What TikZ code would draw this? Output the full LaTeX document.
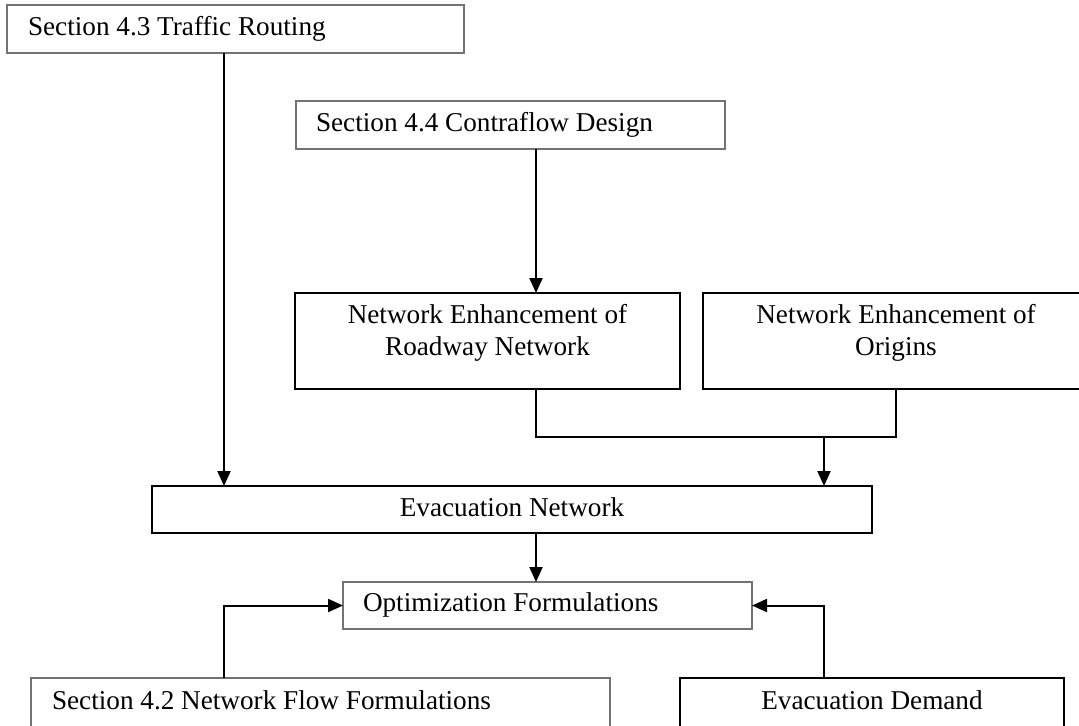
\documentclass[tikz,border=0pt]{standalone}
\usepackage{fontspec}
\setmainfont{Liberation Serif}
\usetikzlibrary{arrows.meta,fit,calc}
\definecolor{thinedge}{gray}{0.45}
\begin{document}
\begin{tikzpicture}[x=0.5pt,y=-0.5pt,
  plainbox/.style={draw=thinedge,line width=0.6pt,inner sep=0pt,outer sep=0pt},
  boldbox/.style={draw=black,line width=1pt,inner sep=0pt,outer sep=0pt},
  boxtext/.style={font=\fontsize{13.6}{16.2}\selectfont,inner sep=0pt,outer sep=0pt},
  link/.style={draw=black,line width=1pt},
  flow/.style={link,-{Triangle[length=7.5pt,width=6.5pt]}},
]
\useasboundingbox (0,0) rectangle (1079,725);
\clip (0,0) rectangle (1079,725);

% boxes
\node[plainbox,fit={(7,5)(464,53)}] (tr) {};
\node[plainbox,fit={(296,101)(725,149)}] (cf) {};
\node[boldbox,fit={(295,293)(680,389)}] (rn) {};
\node[boldbox,fit={(703,293)(1082,389)}] (og) {};
\node[boldbox,fit={(152,486)(872,533)}] (en) {};
\node[plainbox,fit={(343,582)(752,629)}] (of) {};
\node[plainbox,fit={(31,678)(610,745)}] (nf) {};
\node[boldbox,fit={(680,678)(1064,745)}] (ed) {};

% box labels
\node[boxtext,anchor=base west] (trT) at ($(tr.north west)+(21,30.7)$) {Section 4.3 Traffic Routing};
\node[boxtext,anchor=base west] (cfT) at ($(cf.north west)+(20,30)$) {Section 4.4 Contraflow Design};
\node[boxtext,anchor=base] (rnT) at ($(rn.north)+(0,30.3)$)
  {\begin{tabular}[t]{@{}c@{}}Network Enhancement of\\Roadway Network\end{tabular}};
\node[boxtext,anchor=base] (ogT) at ($(og.north west)+(193,30.3)$)
  {\begin{tabular}[t]{@{}c@{}}Network Enhancement of\\Origins\end{tabular}};
\node[boxtext,anchor=base] (enT) at ($(en.north)+(0,30)$) {Evacuation Network};
\node[boxtext,anchor=base west] (ofT) at ($(of.north west)+(20,29.7)$) {Optimization Formulations};
\node[boxtext,anchor=base west] (nfT) at ($(nf.north west)+(21,31)$) {Section 4.2 Network Flow Formulations};
\node[boxtext,anchor=base] (edT) at ($(ed.north)+(0,31)$) {Evacuation Demand};

% connector columns and the joining row
\coordinate (xL) at (224,0);
\coordinate (xM) at (536,0);
\coordinate (xR) at (824,0);
\coordinate (xO) at (896,0);
\coordinate (jn) at (0,437);

% connectors
\draw[flow] (tr.south -| xL) -- (en.north -| xL);
\draw[flow] (cf.south -| xM) -- (rn.north -| xM);
\draw[link] (rn.south -| xM) |- (jn -| xO) -- (og.south -| xO);
\draw[flow] (jn -| xR) -- (en.north -| xR);
\draw[flow] (en.south -| xM) -- (of.north -| xM);
\draw[flow] (nf.north -| xL) |- (of.west);
\draw[flow] (ed.north -| xR) |- (of.east);
\end{tikzpicture}
\end{document}
